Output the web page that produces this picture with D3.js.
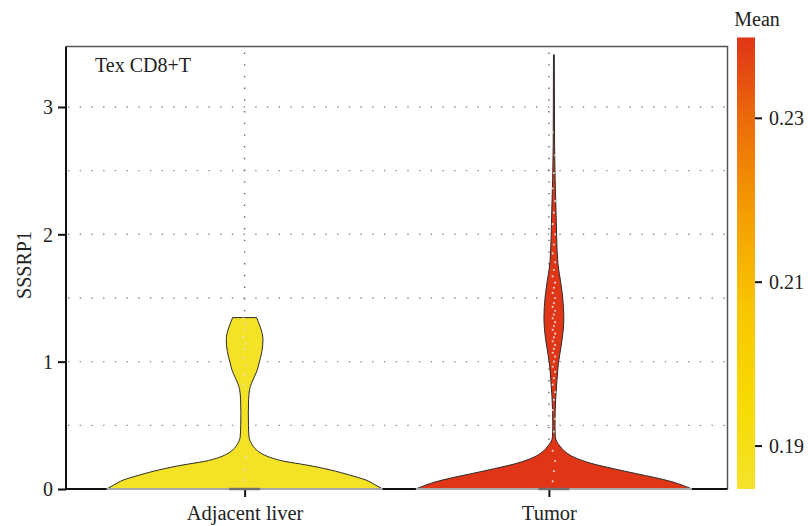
<!DOCTYPE html>
<html>
<head>
<meta charset="utf-8">
<script src="https://cdn.jsdelivr.net/npm/d3@7"></script>
<style>
  body { margin: 0; background: #fff; }
  svg text { font-family: "Liberation Serif", "DejaVu Serif", serif; fill: #222; }
</style>
</head>
<body>
<svg id="chart" width="808" height="526"></svg>
<script>
// groups and the colour value (mean) of each
var groups = ["Adjacent liver", "Tumor"];
var groupMeans = [0.1855, 0.2397];

// violin outlines: expression value and relative half width (1 = widest)
var adjacentProfile = [
    [0, 1.0], [0.03, 0.95], [0.07, 0.88], [0.11, 0.76], [0.15, 0.62], [0.19, 0.44],
    [0.215, 0.30], [0.25, 0.18], [0.28, 0.12], [0.306, 0.087], [0.36, 0.048],
    [0.41, 0.032], [0.5, 0.028], [0.6, 0.027], [0.7, 0.029], [0.78, 0.036],
    [0.83, 0.05], [0.88, 0.07], [0.93, 0.09], [0.99, 0.105], [1.08, 0.125],
    [1.17, 0.133], [1.25, 0.12], [1.31, 0.1], [1.346, 0.087]
];
var tumorProfile = [
    [0, 1.0], [0.03, 0.93], [0.057, 0.855], [0.09, 0.73], [0.12, 0.60], [0.16, 0.43],
    [0.20, 0.275], [0.25, 0.145], [0.29, 0.085], [0.33, 0.049], [0.37, 0.022],
    [0.41, 0.01], [0.49, 0.008], [0.6, 0.009], [0.73, 0.014], [0.85, 0.022],
    [0.99, 0.033], [1.12, 0.052], [1.25, 0.068], [1.35, 0.072], [1.5, 0.064],
    [1.62, 0.05], [1.77, 0.029], [1.98, 0.02], [2.2, 0.015], [2.43, 0.009],
    [2.69, 0.005], [3.0, 0.004], [3.41, 0.003]
];

// single cells drawn as small dots
var adjacentPoints = [0.07, 0.15, 0.25, 0.82, 0.9, 0.97, 1.03, 1.1, 1.14, 1.19, 1.25, 1.3, 1.34];
var tumorPoints = [
    0.06, 0.14, 0.22, 0.3, 0.45, 0.55, 0.62, 0.7, 0.76, 0.82, 0.87, 0.92, 0.96, 1.0,
    1.04, 1.07, 1.1, 1.13, 1.16, 1.19, 1.22, 1.25, 1.28, 1.31, 1.34, 1.37, 1.4, 1.43,
    1.46, 1.5, 1.54, 1.58, 1.62, 1.67, 1.72, 1.78, 1.85, 1.92, 2.0, 2.08, 2.17, 2.26,
    2.36, 2.48, 2.62, 2.8
];

var yTicks = [0, 1, 2, 3];
var yGrid = [0.5, 1, 1.5, 2, 2.5, 3];
var meanTicks = [0.19, 0.21, 0.23];
var meanStops = ["#f4e32a", "#f7da00", "#f9c600", "#f5a000", "#ec7008", "#e03417"];

var svg = d3.select("#chart");
var pLeft = 66, pRight = 727.5, pTop = 46.5, pBottom = 489;

var x = d3.scalePoint().domain(groups).range([pLeft, pRight]).padding(0.587);
var y = d3.scaleLinear().domain([0, 3.475]).range([pBottom, pTop]);
var halfW = 138;
var nudge = [0, 5];

var colorDomain = [0.1847, 0.2398];
var color = d3.scaleLinear()
    .domain(d3.range(meanStops.length).map(function (i) {
        return colorDomain[0] + i * (colorDomain[1] - colorDomain[0]) / (meanStops.length - 1);
    }))
    .range(meanStops);

// grid
var grid = svg.append("g");
grid.selectAll("line.h")
    .data(yGrid)
    .enter()
    .append("line")
    .attr("x1", pLeft + 2).attr("x2", pRight)
    .attr("y1", function (d) { return y(d); })
    .attr("y2", function (d) { return y(d); })
    .style("stroke", "#8a8a8a")
    .style("stroke-width", 1.4)
    .style("stroke-dasharray", "1.4 10.3");
grid.selectAll("line.v")
    .data(groups)
    .enter()
    .append("line")
    .attr("x1", function (d) { return x(d); })
    .attr("x2", function (d) { return x(d); })
    .attr("y1", pTop + 6).attr("y2", pBottom)
    .style("stroke", "#666")
    .style("stroke-width", 1.4)
    .style("stroke-dasharray", "1.4 10.3");

// frame (top / right grey)
svg.append("path")
    .attr("d", "M" + pLeft + "," + pTop + "H" + pRight + "V" + pBottom)
    .style("fill", "none")
    .style("stroke", "#555")
    .style("stroke-width", 1.5);

// y axis
var yAxis = svg.append("g")
    .attr("transform", "translate(" + pLeft + ",0)")
    .call(d3.axisLeft(y).tickValues(yTicks).tickSize(8).tickPadding(5).tickFormat(d3.format("d")));
yAxis.select(".domain").attr("d", "M0," + pBottom + "V" + pTop).style("stroke", "#111").style("stroke-width", 2);
yAxis.selectAll(".tick line").style("stroke", "#111").style("stroke-width", 2);
yAxis.selectAll(".tick text").style("font-size", "20px").attr("dy", "0.34em");

// x axis
var xAxis = svg.append("g")
    .attr("transform", "translate(0," + pBottom + ")")
    .call(d3.axisBottom(x).tickSize(8).tickPadding(6));
xAxis.select(".domain").attr("d", "M" + pLeft + ",0H" + pRight).style("stroke", "#111").style("stroke-width", 2);
xAxis.selectAll(".tick line").style("stroke", "#111").style("stroke-width", 2);
xAxis.selectAll(".tick text").style("font-size", "20.5px").attr("dy", "0.82em");

// violins
var profiles = [adjacentProfile, tumorProfile];
var pointSets = [adjacentPoints, tumorPoints];

groups.forEach(function (g, i) {
    var cx = x(g) + nudge[i];
    var prof = profiles[i];
    var area = d3.area()
        .curve(d3.curveMonotoneY)
        .y(function (d) { return y(d[0]); })
        .x0(function (d) { return cx - d[1] * halfW; })
        .x1(function (d) { return cx + d[1] * halfW; });
    var side = function (s) {
        return d3.line()
            .curve(d3.curveMonotoneY)
            .y(function (d) { return y(d[0]); })
            .x(function (d) { return cx + s * d[1] * halfW; });
    };
    var vg = svg.append("g");
    vg.append("path")
        .datum(prof)
        .attr("d", area)
        .style("fill", color(groupMeans[i]))
        .style("stroke", "none");
    [-1, 1].forEach(function (s) {
        vg.append("path")
            .datum(prof)
            .attr("d", side(s))
            .style("fill", "none")
            .style("stroke", "#2b2b2b")
            .style("stroke-width", 1);
    });
    // flat top
    var topRow = prof[prof.length - 1];
    vg.append("line")
        .attr("x1", cx - topRow[1] * halfW).attr("x2", cx + topRow[1] * halfW)
        .attr("y1", y(topRow[0])).attr("y2", y(topRow[0]))
        .style("stroke", "#2b2b2b").style("stroke-width", 1);
    // base line
    vg.append("line")
        .attr("x1", cx - halfW).attr("x2", cx + halfW)
        .attr("y1", pBottom).attr("y2", pBottom)
        .style("stroke", "#a9a9a9").style("stroke-width", 2);

    // cells
    vg.selectAll("circle")
        .data(pointSets[i])
        .enter()
        .append("circle")
        .attr("cx", function (d, j) { return cx + ((j % 3) - 1) * 1.2; })
        .attr("cy", function (d) { return y(d); })
        .attr("r", 1.1)
        .style("fill", "#e6e6e6")
        .style("opacity", i === 0 ? 0.7 : 0.85);

    // collapsed box at zero
    vg.append("rect")
        .attr("x", cx - 15.5).attr("y", pBottom - 1.2)
        .attr("width", 31).attr("height", 2.4)
        .style("fill", "#6f6f6f");
});

// labels
svg.append("text")
    .attr("transform", "translate(31,265) rotate(-90)")
    .attr("text-anchor", "middle")
    .style("font-size", "20px")
    .text("SSSRP1");

svg.append("text")
    .attr("x", 95).attr("y", 71.5)
    .style("font-size", "20px")
    .text("Tex CD8+T");

// colour bar
var cbX = 737, cbW = 18, cbTop = 37.5, cbBottom = 489;
var cScale = d3.scaleLinear().domain(colorDomain).range([cbBottom, cbTop]);
var defs = svg.append("defs");
var grad = defs.append("linearGradient")
    .attr("id", "meanGrad")
    .attr("x1", 0).attr("x2", 0).attr("y1", 1).attr("y2", 0);
grad.selectAll("stop")
    .data(meanStops)
    .enter()
    .append("stop")
    .attr("offset", function (d, i) { return i / (meanStops.length - 1); })
    .attr("stop-color", function (d) { return d; });
svg.append("rect")
    .attr("x", cbX).attr("y", cbTop)
    .attr("width", cbW).attr("height", cbBottom - cbTop)
    .style("fill", "url(#meanGrad)");

var cAxis = svg.append("g")
    .attr("transform", "translate(" + (cbX + cbW) + ",0)")
    .call(d3.axisRight(cScale).tickValues(meanTicks).tickSize(7).tickPadding(7).tickFormat(d3.format(".2f")));
cAxis.select(".domain").remove();
cAxis.selectAll(".tick line").style("stroke", "#111").style("stroke-width", 2);
cAxis.selectAll(".tick text").style("font-size", "20px").attr("dy", "0.34em");

svg.append("text")
    .attr("x", 757).attr("y", 25.5)
    .attr("text-anchor", "middle")
    .style("font-size", "20px")
    .text("Mean");
</script>
</body>
</html>
